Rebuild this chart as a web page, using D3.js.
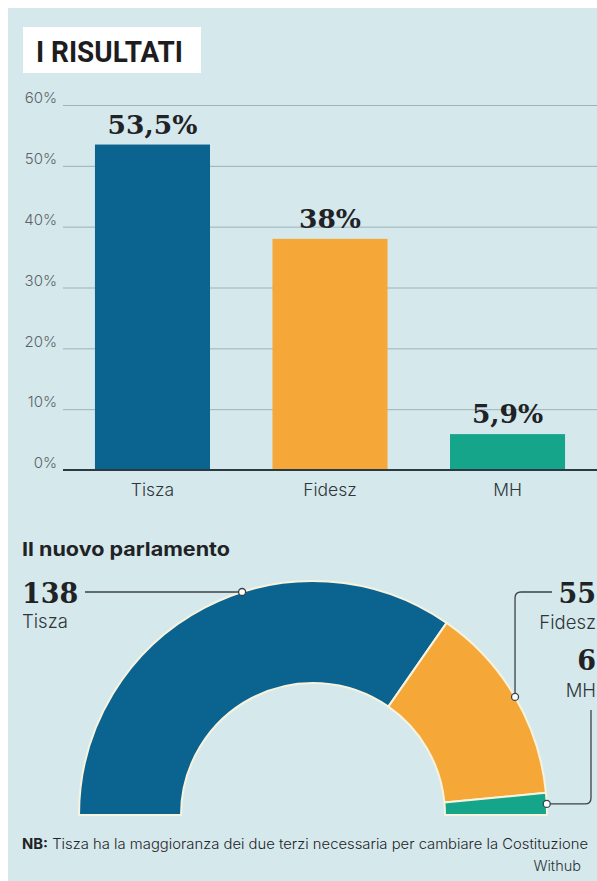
<!DOCTYPE html>
<html>
<head>
<meta charset="utf-8">
<script src="https://cdn.jsdelivr.net/npm/d3@7"></script>
<style>
  html, body { margin: 0; padding: 0; background: #ffffff; }
  svg { display: block; }
</style>
</head>
<body>
<svg id="chart" width="597" height="881"></svg>
<script>
// ---- data ----
const categories = ["Tisza", "Fidesz", "MH"];
const voteShare = [53.5, 38, 5.9];
const voteLabels = ["53,5%", "38%", "5,9%"];
const yTicks = [0, 10, 20, 30, 40, 50, 60];
const seats = [138, 55, 6];
const colors = ["#0b6390", "#f5a837", "#14a58a"];

const svg = d3.select("#chart");
const W = 597, H = 881;
const sans = "Inter, 'Noto Sans', sans-serif";
const serif = "'DejaVu Serif', serif";

// panel background
svg.append("rect").attr("x", 8).attr("y", 8).attr("width", W - 8).attr("height", H - 8)
  .attr("fill", "#d5e8ec");

// title box
svg.append("rect").attr("x", 23).attr("y", 27).attr("width", 178).attr("height", 46).attr("fill", "#ffffff");
svg.append("text").attr("x", 36).attr("y", 62)
  .attr("font-family", "Roboto, sans-serif").attr("font-weight", 700).attr("font-size", 29.5)
  .attr("textLength", 147).attr("lengthAdjust", "spacingAndGlyphs")
  .attr("fill", "#1d1d1f").text("I RISULTATI");

// ---- bar chart ----
const x = d3.scaleBand().domain(categories).range([63, 597]).paddingInner(0.352).paddingOuter(0.18);
const y = d3.scaleLinear().domain([0, 60]).range([470, 105]);

const yAxis = svg.append("g").attr("transform", "translate(63,0)")
  .call(d3.axisLeft(y).tickValues(yTicks).tickFormat(d => d + "%").tickSize(-(597 - 63)).tickPadding(6));
yAxis.select(".domain").remove();
yAxis.selectAll(".tick line").attr("stroke", "#9db3b8").attr("stroke-width", 1);
yAxis.selectAll(".tick text").attr("font-family", sans).attr("font-size", 15)
  .attr("font-weight", 300).attr("fill", "#5c6367").attr("dy", "-0.15em");

svg.append("g").selectAll("rect").data(categories).join("rect")
  .attr("x", d => x(d)).attr("width", x.bandwidth())
  .attr("y", (d, i) => y(voteShare[i])).attr("height", (d, i) => y(0) - y(voteShare[i]))
  .attr("fill", (d, i) => colors[i]);

// baseline
svg.append("line").attr("x1", 63).attr("x2", 597).attr("y1", y(0)).attr("y2", y(0))
  .attr("stroke", "#2b3a42").attr("stroke-width", 2);

// value labels
svg.append("g").selectAll("text").data(categories).join("text")
  .attr("x", d => x(d) + x.bandwidth() / 2)
  .attr("y", (d, i) => y(voteShare[i]) - 11)
  .attr("text-anchor", "middle").attr("font-family", serif).attr("font-weight", 700)
  .attr("font-size", 26.5).attr("fill", "#1f2326")
  .text((d, i) => voteLabels[i]);

// category labels
const xAxis = svg.append("g").attr("transform", "translate(0,470)")
  .call(d3.axisBottom(x).tickSize(0).tickPadding(14));
xAxis.select(".domain").remove();
xAxis.selectAll(".tick text").attr("font-family", sans).attr("font-size", 17.5)
  .attr("font-weight", 300).attr("fill", "#2f363a");

// ---- parliament ----
svg.append("text").attr("x", 22).attr("y", 556)
  .attr("font-family", sans).attr("font-weight", 700).attr("font-size", 19)
  .attr("textLength", 208).attr("lengthAdjust", "spacingAndGlyphs")
  .attr("fill", "#1f2326").text("Il nuovo parlamento");

const cx = 313, cy = 815, rIn = 132, rOut = 234;
const pie = d3.pie().sort(null).startAngle(-Math.PI / 2).endAngle(Math.PI / 2);
const arcs = pie(seats);
const arc = d3.arc().innerRadius(rIn).outerRadius(rOut);
const g = svg.append("g").attr("transform", `translate(${cx},${cy})`);
g.selectAll("path").data(arcs).join("path")
  .attr("d", arc).attr("fill", (d, i) => colors[i])
  .attr("stroke", "#f6f3df").attr("stroke-width", 2).attr("stroke-linejoin", "round");

function outerPoint(a) { return [cx + rOut * Math.sin(a), cy - rOut * Math.cos(a)]; }

const lineColor = "#3a4247";
// Tisza: horizontal leader at y=592
const tY = 592;
const tX = cx - Math.sqrt(rOut * rOut - (cy - tY) * (cy - tY));
svg.append("line").attr("x1", 85).attr("x2", tX).attr("y1", tY).attr("y2", tY)
  .attr("stroke", lineColor).attr("stroke-width", 1.3);

// Fidesz leader
const fA = (arcs[1].startAngle + arcs[1].endAngle) / 2;
const fP = outerPoint(fA);
const fTop = 592, rC = 6;
svg.append("path")
  .attr("d", `M552,${fTop} L${fP[0] + rC},${fTop} Q${fP[0]},${fTop} ${fP[0]},${fTop + rC} L${fP[0]},${fP[1]}`)
  .attr("fill", "none").attr("stroke", lineColor).attr("stroke-width", 1.3);

// MH leader
const mA = (arcs[2].startAngle + arcs[2].endAngle) / 2;
const mP = outerPoint(mA);
const mX = 591;
svg.append("path")
  .attr("d", `M${mX},710 L${mX},${mP[1] - rC} Q${mX},${mP[1]} ${mX - rC},${mP[1]} L${mP[0]},${mP[1]}`)
  .attr("fill", "none").attr("stroke", lineColor).attr("stroke-width", 1.3);

// dots
[[tX, tY], fP, mP].forEach(p => {
  svg.append("circle").attr("cx", p[0]).attr("cy", p[1]).attr("r", 3.5)
    .attr("fill", "#ffffff").attr("stroke", lineColor).attr("stroke-width", 1.3);
});

// seat labels
svg.append("text").attr("x", 22).attr("y", 603).attr("font-family", serif).attr("font-weight", 700)
  .attr("font-size", 27).attr("fill", "#1f2326").text(seats[0]);
svg.append("text").attr("x", 22).attr("y", 628).attr("font-family", sans).attr("font-weight", 300)
  .attr("font-size", 18.5).attr("fill", "#2f363a").text(categories[0]);

svg.append("text").attr("x", 596).attr("y", 603).attr("text-anchor", "end").attr("font-family", serif).attr("font-weight", 700)
  .attr("font-size", 27).attr("fill", "#1f2326").text(seats[1]);
svg.append("text").attr("x", 596).attr("y", 629).attr("text-anchor", "end").attr("font-family", sans).attr("font-weight", 300)
  .attr("font-size", 18.5).attr("fill", "#2f363a").text(categories[1]);

svg.append("text").attr("x", 596).attr("y", 670).attr("text-anchor", "end").attr("font-family", serif).attr("font-weight", 700)
  .attr("font-size", 27).attr("fill", "#1f2326").text(seats[2]);
svg.append("text").attr("x", 596).attr("y", 697).attr("text-anchor", "end").attr("font-family", sans).attr("font-weight", 300)
  .attr("font-size", 18.5).attr("fill", "#2f363a").text(categories[2]);

// footer
const nb = svg.append("text").attr("x", 22).attr("y", 849).attr("font-family", sans)
  .attr("font-size", 14).attr("fill", "#1f2326")
  .attr("textLength", 566).attr("lengthAdjust", "spacingAndGlyphs");
nb.append("tspan").attr("font-weight", 700).text("NB:");
nb.append("tspan").attr("font-weight", 300).text(" Tisza ha la maggioranza dei due terzi necessaria per cambiare la Costituzione");

svg.append("text").attr("x", 581).attr("y", 871).attr("text-anchor", "end").attr("font-family", sans)
  .attr("font-weight", 300).attr("font-size", 14.5).attr("fill", "#2f363a").text("Withub");
</script>
</body>
</html>
